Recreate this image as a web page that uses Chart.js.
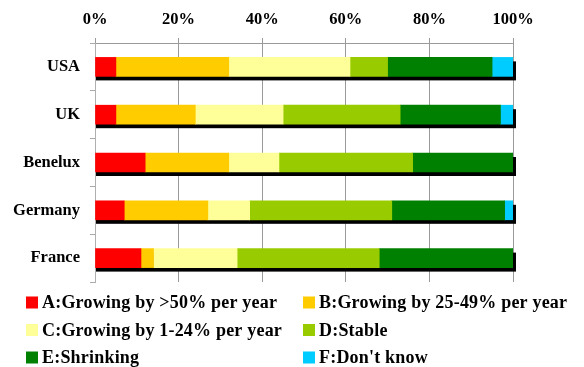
<!DOCTYPE html>
<html>
<head>
<meta charset="utf-8">
<script src="https://cdn.jsdelivr.net/npm/chart.js@4/dist/chart.umd.min.js"></script>
<style>
  html, body { margin: 0; padding: 0; background: #fff; }
  #wrap { width: 584px; height: 367px; position: relative; }
</style>
</head>
<body>
<div id="wrap"><canvas id="c" width="584" height="367"></canvas></div>
<script>
// Market outlook by region, share of respondents (%)
const categories = ['USA', 'UK', 'Benelux', 'Germany', 'France'];
const growingOver50 = [5, 5, 12, 7, 11];
const growing25to49 = [27, 19, 20, 20, 3];
const growing1to24 = [29, 21, 12, 10, 20];
const stable = [9, 28, 32, 34, 34];
const shrinking = [25, 24, 24, 27, 32];
const dontKnow = [5, 3, 0, 2, 0];
const seriesNames = [
  'A:Growing by >50% per year',
  'B:Growing by 25-49% per year',
  'C:Growing by 1-24% per year',
  'D:Stable',
  'E:Shrinking',
  "F:Don't know"
];
const axisTicks = [0, 20, 40, 60, 80, 100];

const seriesValues = [growingOver50, growing25to49, growing1to24, stable, shrinking, dontKnow];
const seriesColors = ['#FF0000', '#FFCC00', '#FFFF99', '#99CC00', '#008000', '#00CCFF'];
const FONT = '"Liberation Serif", "Times New Roman", serif';

// Black drop shadow behind each full stacked bar
const barShadow = {
  id: 'barShadow',
  beforeDatasetsDraw(chart) {
    const ctx = chart.ctx;
    const xs = chart.scales.x;
    const meta0 = chart.getDatasetMeta(0);
    ctx.save();
    ctx.fillStyle = '#000';
    categories.forEach((c, i) => {
      const el = meta0.data[i];
      if (!el) return;
      const p = el.getProps(['y', 'height'], true);
      const total = seriesValues.reduce((s, arr) => s + arr[i], 0);
      const x0 = xs.getPixelForValue(0);
      const x1 = xs.getPixelForValue(total);
      ctx.fillRect(x0 + 1, p.y - p.height / 2 + 4, x1 - x0 + 2, p.height);
    });
    ctx.restore();
  }
};

// Two-column legend under the plot
const gridLegend = {
  id: 'gridLegend',
  afterDraw(chart, args, opts) {
    const ctx = chart.ctx;
    ctx.save();
    ctx.font = opts.font;
    if ('letterSpacing' in ctx) ctx.letterSpacing = opts.letterSpacing;
    ctx.textBaseline = 'middle';
    ctx.textAlign = 'left';
    chart.data.datasets.forEach((ds, i) => {
      const col = i % 2, row = Math.floor(i / 2);
      const x = opts.columns[col];
      const y = opts.top + row * opts.rowGap;
      ctx.fillStyle = ds.backgroundColor;
      ctx.fillRect(x, y - opts.box / 2, opts.box, opts.box);
      ctx.fillStyle = '#000';
      ctx.fillText(ds.label, x + opts.box + opts.gap, y + 1);
    });
    ctx.restore();
  }
};

new Chart(document.getElementById('c'), {
  type: 'bar',
  data: {
    labels: categories,
    datasets: seriesValues.map((vals, i) => ({
      label: seriesNames[i],
      data: vals,
      backgroundColor: seriesColors[i],
      borderWidth: 0,
      barThickness: 19
    }))
  },
  options: {
    indexAxis: 'y',
    responsive: false,
    animation: false,
    layout: { padding: { top: 0, left: 0, right: 71, bottom: 85 } },
    plugins: {
      legend: { display: false },
      tooltip: { enabled: false },
      gridLegend: {
        font: 'bold 18px ' + FONT,
        letterSpacing: '0.2px',
        columns: [26, 303],
        top: 302.5,
        rowGap: 27.5,
        box: 12,
        gap: 4
      }
    },
    scales: {
      x: {
        position: 'top',
        stacked: true,
        min: 0,
        max: 100,
        afterBuildTicks(scale) { scale.ticks = axisTicks.map(v => ({ value: v })); },
        afterFit(scale) { scale.height = 43; },
        ticks: {
          callback: v => v + '%',
          color: '#000',
          font: { family: FONT, size: 16.5, weight: 'bold' },
          padding: 8,
          maxRotation: 0
        },
        grid: { color: '#9a9a9a', tickLength: 5, lineWidth: 1 },
        border: { color: '#9a9a9a' }
      },
      y: {
        stacked: true,
        afterFit(scale) { scale.width = 95; },
        ticks: {
          color: '#000',
          font: { family: FONT, size: 16.5, weight: 'bold' },
          padding: 10
        },
        grid: { drawOnChartArea: false, offset: true, tickLength: 5, color: '#aaa' },
        border: { color: '#b0b0b0' }
      }
    }
  },
  plugins: [barShadow, gridLegend]
});
</script>
</body>
</html>
